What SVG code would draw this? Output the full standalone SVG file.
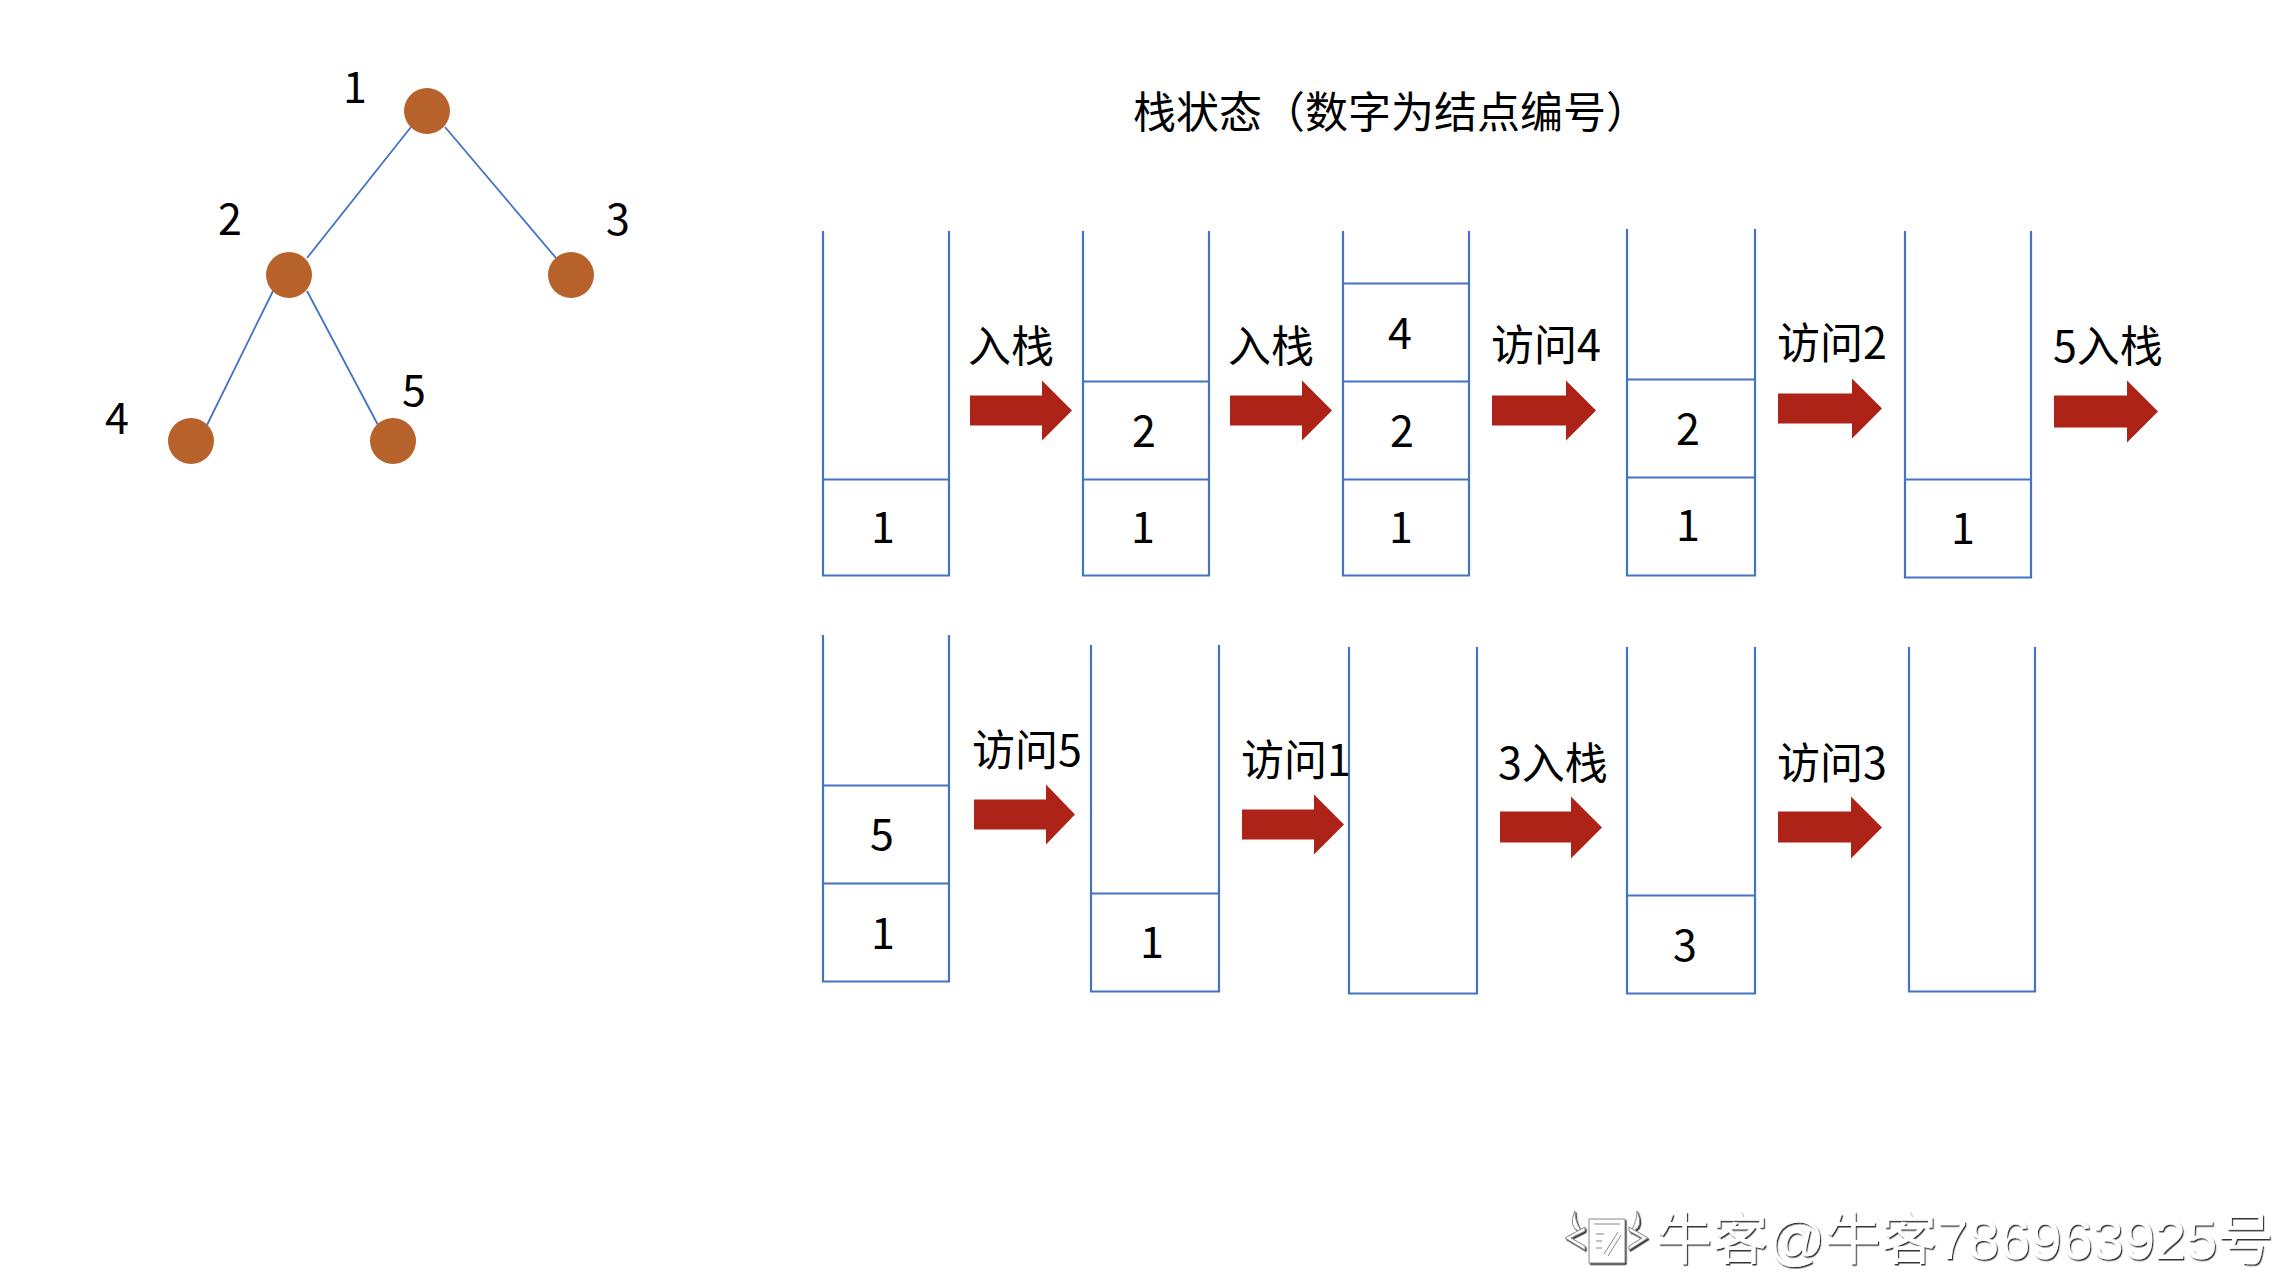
<svg xmlns="http://www.w3.org/2000/svg" width="2280" height="1276" viewBox="0 0 2280 1276">
<style>
text{font-family:"Noto Sans CJK SC","Liberation Sans",sans-serif;fill:#000;font-weight:400}
.l{font-size:43px}
.n{font-size:43px;text-anchor:middle}
.t{font-size:43px}
.s{fill:none;stroke:#4472C4;stroke-width:2.2}
.e{fill:none;stroke:#4472C4;stroke-width:1.8}
.c{fill:#B8622B}
.a{fill:#AE2318}
.w{font-family:"Liberation Sans","Noto Sans CJK SC",sans-serif;font-size:56px;fill:#fff;font-weight:400;filter:url(#sh)}
</style>
<defs>
<filter id="sh" x="-5%" y="-20%" width="110%" height="140%"><feDropShadow dx="1.2" dy="1.5" stdDeviation="0.6" flood-color="#333"/></filter>
</defs>
<rect width="2280" height="1276" fill="#fff"/>
<g id="connectors">
<path class="e" d="M411 127L307 258M445 127L556 258M273 291L207 425M307 291L378 425"/>
</g>
<g id="node1"><circle class="c" cx="427" cy="111" r="23"/><text class="n" x="355" y="103">1</text></g>
<g id="node2"><circle class="c" cx="289" cy="275" r="23"/><text class="n" x="230" y="235">2</text></g>
<g id="node3"><circle class="c" cx="571" cy="275" r="23"/><text class="n" x="618" y="235">3</text></g>
<g id="node4"><circle class="c" cx="191" cy="441" r="23"/><text class="n" x="117" y="434">4</text></g>
<g id="node5"><circle class="c" cx="393" cy="441" r="23"/><text class="n" x="414" y="406">5</text></g>
<text id="title" class="t" x="1133" y="128">栈状态（数字为结点编号）</text>
<g id="stack1"><path class="s" d="M823 231V575.5H949V231M823 479.5H949"/><text class="n" x="883" y="543">1</text></g>
<g id="stack2"><path class="s" d="M1083 231V575.5H1209V231M1083 381.5H1209M1083 479.5H1209"/><text class="n" x="1143" y="543">1</text><text class="n" x="1144" y="447">2</text></g>
<g id="stack3"><path class="s" d="M1343 231V575.5H1469V231M1343 283.5H1469M1343 381.5H1469M1343 479.5H1469"/><text class="n" x="1401" y="543">1</text><text class="n" x="1402" y="447">2</text><text class="n" x="1400" y="349">4</text></g>
<g id="stack4"><path class="s" d="M1627 229V575.5H1755V229M1627 379.5H1755M1627 477.5H1755"/><text class="n" x="1688" y="541">1</text><text class="n" x="1688" y="445">2</text></g>
<g id="stack5"><path class="s" d="M1905 231V577.5H2031V231M1905 479.5H2031"/><text class="n" x="1963" y="544">1</text></g>
<g id="stack6"><path class="s" d="M823 635V981.5H949V635M823 785.5H949M823 883.5H949"/><text class="n" x="883" y="949">1</text><text class="n" x="882" y="850">5</text></g>
<g id="stack7"><path class="s" d="M1091 645V991.5H1219V645M1091 893.5H1219"/><text class="n" x="1152" y="958">1</text></g>
<g id="stack8"><path class="s" d="M1349 647V993.5H1477V647"/></g>
<g id="stack9"><path class="s" d="M1627 647V993.5H1755V647M1627 895.5H1755"/><text class="n" x="1685" y="961">3</text></g>
<g id="stack10"><path class="s" d="M1909 647V991.5H2035V647"/></g>
<g id="step1"><path class="a" d="M970 395.5H1042V380.5L1072 410.5L1042 440.5V425.5H970Z"/><text class="l" x="968" y="362">入栈</text></g>
<g id="step2"><path class="a" d="M1230 395.5H1302V380.5L1332 410.5L1302 440.5V425.5H1230Z"/><text class="l" x="1228" y="362">入栈</text></g>
<g id="step3"><path class="a" d="M1492 395.5H1566V380.5L1596 410.5L1566 440.5V425.5H1492Z"/><text class="l" x="1491" y="361">访问4</text></g>
<g id="step4"><path class="a" d="M1778 393.5H1852V378.5L1882 408.5L1852 438.5V423.5H1778Z"/><text class="l" x="1777" y="359">访问2</text></g>
<g id="step5"><path class="a" d="M2054 395.5H2127V380.5L2158 411.5L2127 442.5V427.5H2054Z"/><text class="l" x="2053" y="362">5入栈</text></g>
<g id="step6"><path class="a" d="M974 799.5H1046V784.5L1075 814.5L1046 844.5V829.5H974Z"/><text class="l" x="972" y="766">访问5</text></g>
<g id="step7"><path class="a" d="M1242 809.5H1314V794.5L1344 824.5L1314 854.5V839.5H1242Z"/><text class="l" x="1241" y="776">访问1</text></g>
<g id="step8"><path class="a" d="M1500 811.5H1571V796.5L1602 827.5L1571 858.5V842.5H1500Z"/><text class="l" x="1498" y="779">3入栈</text></g>
<g id="step9"><path class="a" d="M1778 811.5H1851V796.5L1882 827.5L1851 858.5V842.5H1778Z"/><text class="l" x="1777" y="779">访问3</text></g>
<g id="watermark">
<g filter="url(#sh)" fill="#fff" stroke="#888" stroke-width="1">
<path d="M1575 1211C1570 1222 1572 1230 1582 1232C1577 1225 1575 1218 1575 1211Z"/>
<path d="M1637 1211C1642 1222 1640 1230 1630 1232C1635 1225 1637 1218 1637 1211Z"/>
<path d="M1585 1227L1565 1238L1585 1250L1585 1246L1571 1238L1585 1231Z"/>
<path d="M1629 1227L1648 1238L1629 1250L1629 1246L1642 1238L1629 1231Z"/>
<path d="M1589 1219H1625V1263H1589Z"/>
<path fill="none" d="M1594 1224H1620M1596 1234H1604M1596 1241H1602M1596 1248H1602M1604 1254L1618 1232M1608 1256L1621 1235"/>
</g>
<text class="w" x="1656" y="1259">牛客@牛客786963925号</text>
</g>
</svg>
